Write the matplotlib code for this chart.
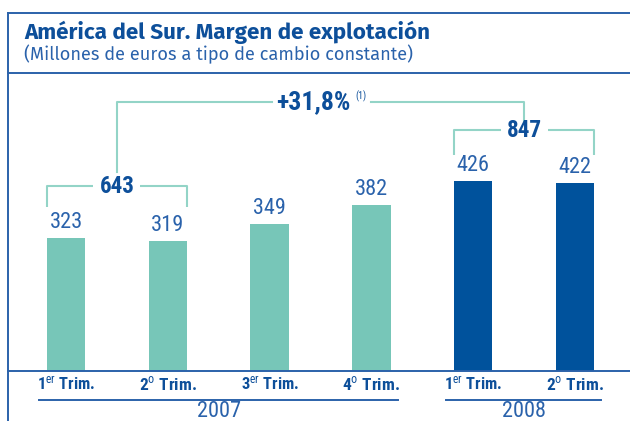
import matplotlib
matplotlib.use("Agg")
import matplotlib.pyplot as plt
from matplotlib.lines import Line2D

# ---- data ----
quarters = ["1", "2", "3", "4", "1", "2"]
quarter_suffix = ["er", "o", "er", "o", "er", "o"]
years = ["2007", "2008"]
year_groups = [(0, 3), (4, 5)]
values = [323, 319, 349, 382, 426, 422]
pair_totals = [643, 847]
growth_label = "+31,8%"
growth_note = "(1)"
title = "América del Sur. Margen de explotación"
subtitle = "(Millones de euros a tipo de cambio constante)"

# ---- style ----
COND = ["Roboto Condensed", "PT Sans Narrow", "DejaVu Sans"]
HEAD = ["Fira Sans", "Open Sans", "Liberation Sans"]
TEAL = "#77c6b8"
NAVY = "#00529c"
FRAME = "#2b62aa"
TEXT = "#2a62ab"
DARK = "#0d4f9a"
BRACKET = "#93d4c7"

plt.rcParams["mathtext.fontset"] = "custom"
plt.rcParams["mathtext.rm"] = "Roboto Condensed"
plt.rcParams["mathtext.bf"] = "Roboto Condensed:bold"

W, H = 630, 421
fig = plt.figure(figsize=(W / 100, H / 100), dpi=100)
fig.patch.set_facecolor("white")
renderer = fig.canvas.get_renderer()


def fit(t, width_px):
    """Scale a text's font size so that it spans the given pixel width."""
    for _ in range(3):
        w = t.get_window_extent(renderer=renderer).width
        if w > 0:
            t.set_fontsize(t.get_fontsize() * width_px / w)
    return t


# overlay in pixel coordinates for the frame and headings
over = fig.add_axes([0, 0, 1, 1])
over.set_xlim(0, W)
over.set_ylim(H, 0)
over.axis("off")
over.add_line(Line2D([8, 8], [12.7, H], color=FRAME, lw=1.4))
over.add_line(Line2D([8, W], [12.7, 12.7], color=FRAME, lw=1.4))
over.add_line(Line2D([8, W], [72.7, 72.7], color=FRAME, lw=1.4))
fit(over.text(24, 32, title, fontsize=14, fontweight="bold", color=DARK,
              family=HEAD, va="center", ha="left"), 406)
fit(over.text(24, 54, subtitle, fontsize=12, color=TEXT,
              family=HEAD, va="center", ha="left"), 388)

# bar axes: baseline at 370.7 px, top at 72.7 px
base_px, top_px = 370.7, 72.7
x0_px, dx_px = 66.0, 101.8
left_px, right_px = 8, W
ax = fig.add_axes([left_px / W, (H - base_px) / H,
                   (right_px - left_px) / W, (base_px - top_px) / H])
ax.set_xlim((left_px - x0_px) / dx_px, (right_px - x0_px) / dx_px)
ppu = 0.561  # pixels per value unit
ymin = 87.3
ax.set_ylim(ymin, ymin + (base_px - top_px) / ppu)
ax.patch.set_alpha(0)
for s in ["top", "right", "left"]:
    ax.spines[s].set_visible(False)
ax.spines["bottom"].set_color(FRAME)
ax.spines["bottom"].set_linewidth(1.4)
ax.set_yticks([])
ax.set_xticks([])

xs = list(range(len(values)))
colors = [TEAL] * 4 + [NAVY] * 2
bw = 0.378
ax.bar(xs, values, width=bw, color=colors, bottom=0, zorder=2)


def px(v):
    return v / ppu  # pixel offset -> data units


for x, v in zip(xs, values):
    fit(ax.text(x, v + px(5), str(v), ha="center", va="bottom",
                fontsize=15, color=TEXT, family=COND), 33)

# pair brackets
brackets = [(0, 1, pair_totals[0], 379, 416.5), (4, 5, pair_totals[1], 472, 515.8)]
for a, b, tot, low, high in brackets:
    xl, xr = a - bw / 2, b + bw / 2
    xm = (a + b) / 2
    gap = 0.23
    ax.plot([xl, xl, xm - gap], [low, high, high], color=BRACKET, lw=1.5,
            solid_capstyle="butt", clip_on=False)
    ax.plot([xm + gap, xr, xr], [high, high, low], color=BRACKET, lw=1.5,
            solid_capstyle="butt", clip_on=False)
    fit(ax.text(xm, high, str(tot), ha="center", va="center", fontsize=15,
                fontweight="bold", color=DARK, family=COND), 35)

# growth connector between pair totals
top_level = 566.3
xa, xb = 0.5, 4.5
ax.plot([xa, xa, 2.02], [441.5, top_level, top_level], color=BRACKET, lw=1.5,
        clip_on=False)
ax.plot([3.0, xb, xb], [top_level, top_level, 532.4], color=BRACKET, lw=1.5,
        clip_on=False)
fit(ax.text(2.43, top_level, growth_label, ha="center", va="center", fontsize=15,
            fontweight="bold", color=DARK, family=COND), 74)
ax.text(2.9, top_level + px(6), growth_note, ha="center", va="center",
        fontsize=7, color=DARK, family=COND)

# category labels under the baseline
for x, q, suf in zip(xs, quarters, quarter_suffix):
    t = ax.annotate(rf"{q}$^{{\mathrm{{{suf}}}}}$ Trim.", xy=(x, ymin),
                    xytext=(0, -13), textcoords="offset pixels",
                    ha="center", va="center", fontsize=12.5, fontweight="bold",
                    color=DARK, family=COND, annotation_clip=False)
    if t.get_window_extent(renderer=renderer).width > 58:
        fit(t, 58)

# year groups with underline
tr = ax.get_xaxis_transform()
span = base_px - top_px
for (a, b), yr in zip(year_groups, years):
    xl = a - 0.27
    xr = b + 0.26
    xm = (a + b) / 2
    ax.plot([xl, xr], [-(400 - base_px) / span] * 2,
            transform=tr, color=FRAME, lw=1.4, clip_on=False)
    fit(ax.text(xm, -(411.5 - base_px) / span, yr, transform=tr,
                ha="center", va="center", fontsize=14, color=TEXT,
                family=COND), 44)

fig.savefig("out.png", dpi=100, facecolor="white")
